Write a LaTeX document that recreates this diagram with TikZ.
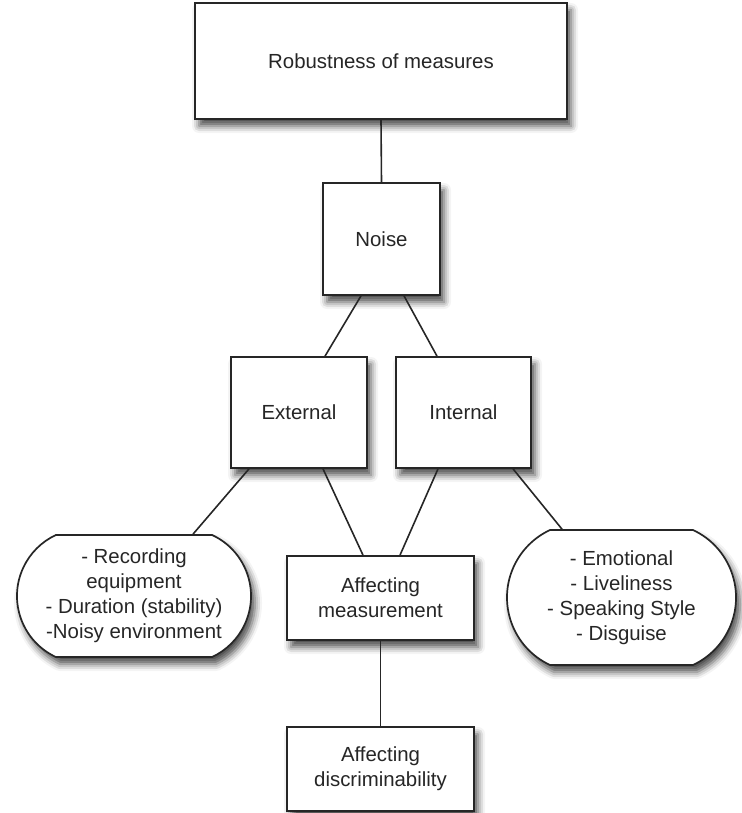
\documentclass[tikz,border=0pt]{standalone}
\usepackage{fontspec}
\setmainfont{Liberation Sans}
\usetikzlibrary{shapes.misc,shadows.blur}

\begin{document}
\begin{tikzpicture}[x=1pt, y=-1pt,
		box/.style={draw=black!85, line width=1.7pt, fill=white, align=center, inner sep=2pt,
			font=\fontsize{20.4}{25}\selectfont, text=black!85,
			blur shadow={shadow xshift=4pt, shadow yshift=-7pt, shadow blur radius=7pt, shadow opacity=70}},
		pill/.style={box, rounded rectangle, rounded rectangle arc length=130},
		link/.style={draw=black!85, line width=1.6pt}]
		\useasboundingbox (0,0) rectangle (741,813);

		\node[box, minimum width=372pt, minimum height=116pt] (robust) at (381,61) {Robustness of measures};
		\node[box, minimum width=117pt, minimum height=112pt] (noise) at (381.5,239) {Noise};
		\node[box, minimum width=136pt, minimum height=111pt] (external) at (299,412.5) {External};
		\node[box, minimum width=135pt, minimum height=111pt] (internal) at (463.5,412.5) {Internal};
		\node[box, minimum width=187pt, minimum height=84pt] (measure) at (380.5,598) {Affecting\\measurement};
		\node[box, minimum width=187pt, minimum height=84pt] (discrim) at (380.5,769) {Affecting\\discriminability};
		\node[pill, minimum width=238pt, minimum height=122pt] (extlist) at (134,596)
			{- Recording\\equipment\\- Duration (stability)\\-Noisy environment};
		\node[pill, minimum width=233pt, minimum height=135pt] (intlist) at (621.5,597.5)
			{- Emotional\\- Liveliness\\- Speaking Style\\- Disguise};

		\draw[link] (robust.south) -- (noise.north);
		\draw[link] ([xshift=-20.5pt]noise.south) -- ([xshift=26pt]external.north);
		\draw[link] ([xshift=22.5pt]noise.south) -- ([xshift=-26.5pt]internal.north);
		\draw[link] ([xshift=-50pt]external.south) -- ([xshift=59pt]extlist.north);
		\draw[link] ([xshift=24pt]external.south) -- ([xshift=-17.5pt]measure.north);
		\draw[link] ([xshift=-25.5pt]internal.south) -- ([xshift=19.5pt]measure.north);
		\draw[link] ([xshift=49.5pt]internal.south) -- ([xshift=-59.5pt]intlist.north);
		\draw[link] (measure.south) -- (discrim.north);

	\end{tikzpicture}
\end{document}
